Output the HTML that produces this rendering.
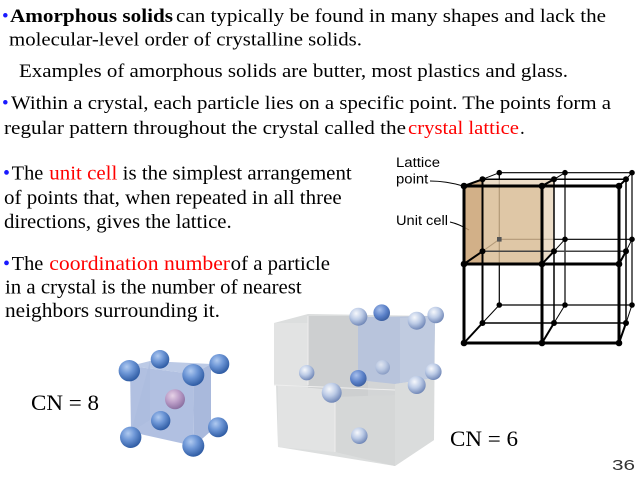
<!DOCTYPE html>
<html><head><meta charset="utf-8"><style>
html,body{margin:0;padding:0;background:#fff;}
svg{display:block;}
.t{font-family:"Liberation Serif","Times New Roman",Times,serif;fill:#000;}
.s{font-family:"Liberation Sans",Arial,Helvetica,sans-serif;fill:#000;}
</style></head><body>
<svg width="640" height="481" viewBox="0 0 640 481" xmlns="http://www.w3.org/2000/svg">
<defs>
<radialGradient id="gb" cx="0.38" cy="0.32" r="0.7">
<stop offset="0" stop-color="#b0caf0"/><stop offset="0.45" stop-color="#6d96d6"/><stop offset="1" stop-color="#2d5aa2"/>
</radialGradient>
<radialGradient id="gp" cx="0.38" cy="0.32" r="0.7">
<stop offset="0" stop-color="#e6d2e6"/><stop offset="0.5" stop-color="#bc9ec8"/><stop offset="1" stop-color="#8a6fa0"/>
</radialGradient>
<radialGradient id="gl" cx="0.38" cy="0.32" r="0.7">
<stop offset="0" stop-color="#f6f8fc"/><stop offset="0.5" stop-color="#bccbe6"/><stop offset="1" stop-color="#6f86b6"/>
</radialGradient>
<radialGradient id="gc" cx="0.38" cy="0.32" r="0.7">
<stop offset="0" stop-color="#a8c0ec"/><stop offset="0.6" stop-color="#5a80c8"/><stop offset="1" stop-color="#3c5fa0"/>
</radialGradient>
</defs>
<rect width="640" height="481" fill="#fff"/>

<g font-family="Liberation Serif, Times New Roman, Times, serif">
<text class="t" x="2" y="22" font-size="19" style="fill:#1a1aff">•</text>
<text class="t" x="10" y="22" font-size="19" font-weight="bold" textLength="163" lengthAdjust="spacingAndGlyphs">Amorphous solids</text>
<text class="t" x="176" y="22" font-size="19" textLength="430" lengthAdjust="spacingAndGlyphs">can typically be found in many shapes and lack the</text>
<text class="t" x="9" y="45.5" font-size="19" textLength="353" lengthAdjust="spacingAndGlyphs">molecular-level order of crystalline solids.</text>
<text class="t" x="19" y="77" font-size="19" textLength="549" lengthAdjust="spacingAndGlyphs">Examples of amorphous solids are butter, most plastics and glass.</text>
<text class="t" x="2" y="109" font-size="19" style="fill:#1a1aff">•</text>
<text class="t" x="11" y="109" font-size="19" textLength="600" lengthAdjust="spacingAndGlyphs">Within a crystal, each particle lies on a specific point. The points form a</text>
<text class="t" x="4" y="134" font-size="19" textLength="402" lengthAdjust="spacingAndGlyphs">regular pattern throughout the crystal called the</text>
<text class="t" x="408" y="134" font-size="19" textLength="111" lengthAdjust="spacingAndGlyphs" style="fill:#ff0000">crystal lattice</text>
<text class="t" x="520" y="134" font-size="19">.</text>

<text class="t" x="3" y="179.5" font-size="20" style="fill:#1a1aff">•</text>
<text class="t" x="11.7" y="179.5" font-size="20" textLength="31.6" lengthAdjust="spacingAndGlyphs">The</text>
<text class="t" x="49.3" y="179.5" font-size="20" textLength="68" lengthAdjust="spacingAndGlyphs" style="fill:#ff0000">unit cell</text>
<text class="t" x="122.7" y="179.5" font-size="20" textLength="229" lengthAdjust="spacingAndGlyphs">is the simplest arrangement</text>
<text class="t" x="4" y="204" font-size="20" textLength="337.7" lengthAdjust="spacingAndGlyphs">of points that, when repeated in all three</text>
<text class="t" x="4" y="228" font-size="20" textLength="227.7" lengthAdjust="spacingAndGlyphs">directions, gives the lattice.</text>

<text class="t" x="3" y="270" font-size="20" style="fill:#1a1aff">•</text>
<text class="t" x="11.7" y="270" font-size="20" textLength="31.6" lengthAdjust="spacingAndGlyphs">The</text>
<text class="t" x="49.3" y="270" font-size="20" textLength="180.7" lengthAdjust="spacingAndGlyphs" style="fill:#ff0000">coordination number</text>
<text class="t" x="230.7" y="270" font-size="20" textLength="99.3" lengthAdjust="spacingAndGlyphs">of a particle</text>
<text class="t" x="5" y="293.5" font-size="20" textLength="296.7" lengthAdjust="spacingAndGlyphs">in a crystal is the number of nearest</text>
<text class="t" x="5" y="317" font-size="20" textLength="215" lengthAdjust="spacingAndGlyphs">neighbors surrounding it.</text>

<text class="t" x="31" y="410" font-size="22" textLength="68" lengthAdjust="spacingAndGlyphs">CN = 8</text>
<text class="t" x="450" y="446" font-size="22" textLength="68" lengthAdjust="spacingAndGlyphs">CN = 6</text>
</g>
<g font-family="Liberation Sans, Arial, Helvetica, sans-serif">
<text class="s" x="612" y="470" font-size="15" textLength="23" lengthAdjust="spacingAndGlyphs" style="fill:#333">36</text>
<text class="s" x="396" y="167" font-size="13.5" textLength="44" lengthAdjust="spacingAndGlyphs">Lattice</text>
<text class="s" x="396" y="183.5" font-size="13.5" textLength="32.3" lengthAdjust="spacingAndGlyphs">point</text>
<text class="s" x="396" y="225" font-size="13.5" textLength="52" lengthAdjust="spacingAndGlyphs">Unit cell</text>
</g>
<path d="M430,181 Q446,181 463,186" stroke="#000" stroke-width="1" fill="none"/>
<path d="M450,222 Q459,224 469,230" stroke="#000" stroke-width="1" fill="none"/>

<!-- Lattice: back layer -->
<g stroke="#000" stroke-width="1.2" fill="none">
<line x1="499.3" y1="172.7" x2="632" y2="172.7"/>
<line x1="499.3" y1="239.3" x2="632" y2="239.3"/>
<line x1="499.3" y1="305" x2="632" y2="305"/>
<line x1="499.3" y1="172.7" x2="499.3" y2="305"/>
<line x1="565" y1="172.7" x2="565" y2="305"/>
<line x1="632" y1="172.7" x2="632" y2="305"/>
</g>
<g stroke="#000" stroke-width="1" fill="none">
<line x1="482.5" y1="179.3" x2="499.3" y2="172.7"/>
<line x1="554" y1="179.3" x2="565" y2="172.7"/>
<line x1="626" y1="179.3" x2="632" y2="172.7"/>
<line x1="482.5" y1="251.3" x2="499.3" y2="239.3"/>
<line x1="554" y1="251.3" x2="565" y2="239.3"/>
<line x1="626" y1="251.3" x2="632" y2="239.3"/>
<line x1="482.5" y1="323" x2="499.3" y2="305"/>
<line x1="554" y1="323" x2="565" y2="305"/>
<line x1="626" y1="323" x2="632" y2="305"/>
</g>
<g opacity="0.82">
<polygon points="464,186 482.5,179.3 554,179.3 554,251.3 542,264 464,264" fill="#e9d6bd"/>
<rect x="464" y="186" width="78" height="78" fill="#d9bb93"/>
<polygon points="464,186 482.5,180 482.5,264 464,264" fill="#c99f6e"/>
</g>
<g stroke="#000" stroke-width="1.5" fill="none">
<line x1="482.5" y1="179.3" x2="626" y2="179.3"/>
<line x1="482.5" y1="251.3" x2="626" y2="251.3" stroke="#444"/>
<line x1="482.5" y1="323" x2="626" y2="323"/>
<line x1="482.5" y1="179.3" x2="482.5" y2="323" stroke-width="2"/>
<line x1="554" y1="179.3" x2="554" y2="323"/>
<line x1="626" y1="179.3" x2="626" y2="323"/>
</g>
<g stroke="#000" stroke-width="2" fill="none">
<line x1="464" y1="186" x2="482.5" y2="179.3"/>
<line x1="542" y1="186" x2="554" y2="179.3"/>
<line x1="619" y1="186" x2="626" y2="179.3"/>
<line x1="464" y1="264" x2="482.5" y2="251.3"/>
<line x1="542" y1="264" x2="554" y2="251.3"/>
<line x1="619" y1="264" x2="626" y2="251.3"/>
<line x1="464" y1="343" x2="482.5" y2="323"/>
<line x1="542" y1="343" x2="554" y2="323"/>
<line x1="619" y1="343" x2="626" y2="323"/>
</g>
<g stroke="#000" stroke-width="3" fill="none">
<line x1="464" y1="186" x2="619" y2="186"/>
<line x1="464" y1="264" x2="619" y2="264"/>
<line x1="464" y1="343" x2="619" y2="343"/>
<line x1="464" y1="186" x2="464" y2="343"/>
<line x1="542" y1="186" x2="542" y2="343"/>
<line x1="619" y1="186" x2="619" y2="343"/>
</g>
<g fill="#000">
<circle cx="464" cy="186" r="3.3"/><circle cx="542" cy="186" r="3.3"/><circle cx="619" cy="186" r="3.3"/>
<circle cx="464" cy="264" r="3.3"/><circle cx="542" cy="264" r="3.3"/><circle cx="619" cy="264" r="3.3"/>
<circle cx="464" cy="343" r="3.3"/><circle cx="542" cy="343" r="3.3"/><circle cx="619" cy="343" r="3.3"/>
<circle cx="482.5" cy="179.3" r="3"/><circle cx="554" cy="179.3" r="3"/><circle cx="626" cy="179.3" r="3"/>
<circle cx="482.5" cy="251.3" r="3"/><circle cx="554" cy="251.3" r="3"/><circle cx="626" cy="251.3" r="3"/>
<circle cx="482.5" cy="323" r="3"/><circle cx="554" cy="323" r="3"/><circle cx="626" cy="323" r="3"/>
<circle cx="499.3" cy="172.7" r="2.8"/><circle cx="565" cy="172.7" r="2.8"/><circle cx="632" cy="172.7" r="2.8"/>
<rect x="497" y="237" width="4.6" height="4.6" fill="#555"/><circle cx="565" cy="239.3" r="2.8"/><circle cx="632" cy="239.3" r="2.8"/>
<circle cx="499.3" cy="305" r="2.8"/><circle cx="565" cy="305" r="2.8"/><circle cx="632" cy="305" r="2.8"/>
</g>

<!-- CN=8 BCC -->
<polygon points="130,366 150,361 211,364 193,374" fill="#bccae6"/>
<polygon points="130,366 193,374 194,446 131,432" fill="#b1c0e1"/>
<polygon points="193,374 211,364 211,431 194,446" fill="#a9b9dc"/>
<polygon points="150,361 150,420 131,432" fill="#aabadd" opacity="0.6"/>
<circle cx="160" cy="359.3" r="9.3" fill="url(#gb)"/>
<circle cx="219.3" cy="364" r="10" fill="url(#gb)"/>
<circle cx="129.3" cy="370.7" r="10.7" fill="url(#gb)"/>
<circle cx="193.3" cy="375" r="11" fill="url(#gb)"/>
<circle cx="175" cy="399.3" r="10" fill="url(#gp)"/>
<circle cx="160.7" cy="420.7" r="9.7" fill="url(#gb)"/>
<circle cx="218" cy="427.3" r="10" fill="url(#gb)"/>
<circle cx="130.7" cy="437.3" r="10.7" fill="url(#gb)"/>
<circle cx="193.3" cy="445.7" r="11" fill="url(#gb)"/>

<!-- CN=6 -->
<polygon points="274,323 308,314 435,316 434,440 395,466 278,447" fill="#dcdede"/>
<rect x="274" y="323" width="34" height="62" fill="#e2e3e3"/>
<rect x="308" y="316" width="60" height="111" fill="#cdcfd0"/>
<rect x="368" y="330" width="28" height="98" fill="#d3d5d6"/>
<polygon points="358,317 435,316 434,378 395,384 358,380" fill="#b8c4dc"/>
<polygon points="400,318 435,316 434,378 400,383" fill="#c0cbe0"/>
<polygon points="278,385 335,390 335,452 278,447" fill="#e2e3e3"/>
<polygon points="335,397 395,395 395,466 335,452" fill="#d5d7d7"/>
<polygon points="395,384 434,378 434,440 395,466" fill="#dadcdc"/>
<g stroke="#eeeeee" stroke-width="1" fill="none">
<line x1="274" y1="385" x2="395" y2="390"/>
<line x1="335" y1="390" x2="335" y2="452"/>
<line x1="308" y1="316" x2="308" y2="385"/>
</g>
<circle cx="382.7" cy="367.3" r="7.3" fill="url(#gl)" opacity="0.65"/>
<circle cx="358.3" cy="316.7" r="9" fill="url(#gl)"/>
<circle cx="381.7" cy="312.7" r="8.3" fill="url(#gc)"/>
<circle cx="416.7" cy="320.7" r="9" fill="url(#gl)"/>
<circle cx="435.7" cy="315" r="8.3" fill="url(#gl)"/>
<circle cx="306.7" cy="372.7" r="7.7" fill="url(#gl)"/>
<circle cx="358.3" cy="378.3" r="8.3" fill="url(#gc)"/>
<circle cx="433.3" cy="371.7" r="8.3" fill="url(#gl)"/>
<circle cx="416.7" cy="385" r="9" fill="url(#gl)"/>
<circle cx="331.7" cy="392.7" r="10" fill="url(#gl)"/>
<circle cx="359.3" cy="435.7" r="8.3" fill="url(#gl)"/>
</svg>
</body></html>
